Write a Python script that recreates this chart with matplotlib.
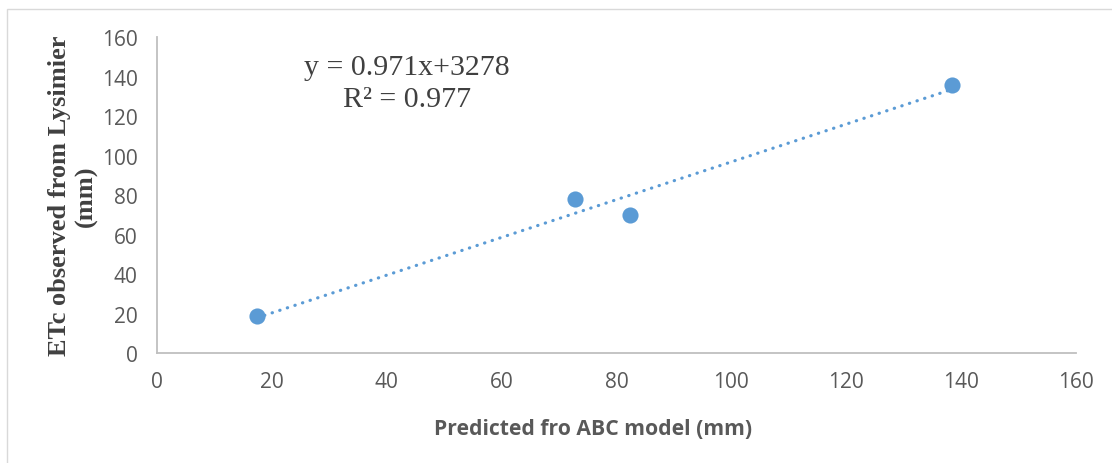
import numpy as np
import matplotlib.pyplot as plt
from matplotlib.patches import Rectangle

# data
predicted = [17.4, 72.8, 82.3, 138.4]
observed = [18.5, 78.0, 70.0, 135.5]
x_ticks = [0, 20, 40, 60, 80, 100, 120, 140, 160]
y_ticks = [0, 20, 40, 60, 80, 100, 120, 140, 160]

blue = '#5B9BD5'
tick_col = '#595959'

fig = plt.figure(figsize=(11.12, 4.64), dpi=100)
ax = fig.add_axes([0.1412, 0.237, 0.8264, 0.681])

# outer chart border
fig.patches.append(Rectangle((0.0063, -0.01), 1.0, 0.989, transform=fig.transFigure,
                             fill=False, edgecolor='#D9D9D9', linewidth=1))

ax.scatter(predicted, observed, s=135, color=blue, zorder=3, linewidths=0)

# linear trendline
slope, icpt = np.polyfit(predicted, observed, 1)
xs = np.array([min(predicted), max(predicted)])
ax.plot(xs, slope * xs + icpt, color=blue, linestyle=(0, (0.1, 2.4)),
        linewidth=2.3, dash_capstyle='round', zorder=2)

ax.set_xlim(0, 160)
ax.set_ylim(0, 160)
ax.set_xticks(x_ticks)
ax.set_yticks(y_ticks)
for s in ['top', 'right']:
    ax.spines[s].set_visible(False)
for s in ['left', 'bottom']:
    ax.spines[s].set_color('#BFBFBF')
    ax.spines[s].set_linewidth(1.3)
ax.tick_params(length=0, labelsize=15, labelcolor=tick_col, labelfontfamily='Open Sans')
ax.tick_params(axis='y', pad=14)
ax.tick_params(axis='x', pad=13)

ax.set_xlabel('Predicted fro ABC model (mm)', fontsize=15.2, fontweight='bold',
              color=tick_col, family='Open Sans')
ax.xaxis.set_label_coords(0.475, -0.205)
ax.set_ylabel('ETc observed from Lysimier\n(mm)', fontsize=19, fontweight='bold',
              color='#404040', family='Liberation Serif', linespacing=1.2)
ax.yaxis.set_label_coords(-0.064, 0.5)

ax.text(0.272, 0.905, 'y = 0.971x+3278', transform=ax.transAxes,
        ha='center', va='center', fontsize=21.5, color='#404040', family='Liberation Serif')
ax.text(0.272, 0.803, 'R² = 0.977', transform=ax.transAxes,
        ha='center', va='center', fontsize=21.5, color='#404040', family='Liberation Serif')

fig.savefig('out.png', dpi=100)
